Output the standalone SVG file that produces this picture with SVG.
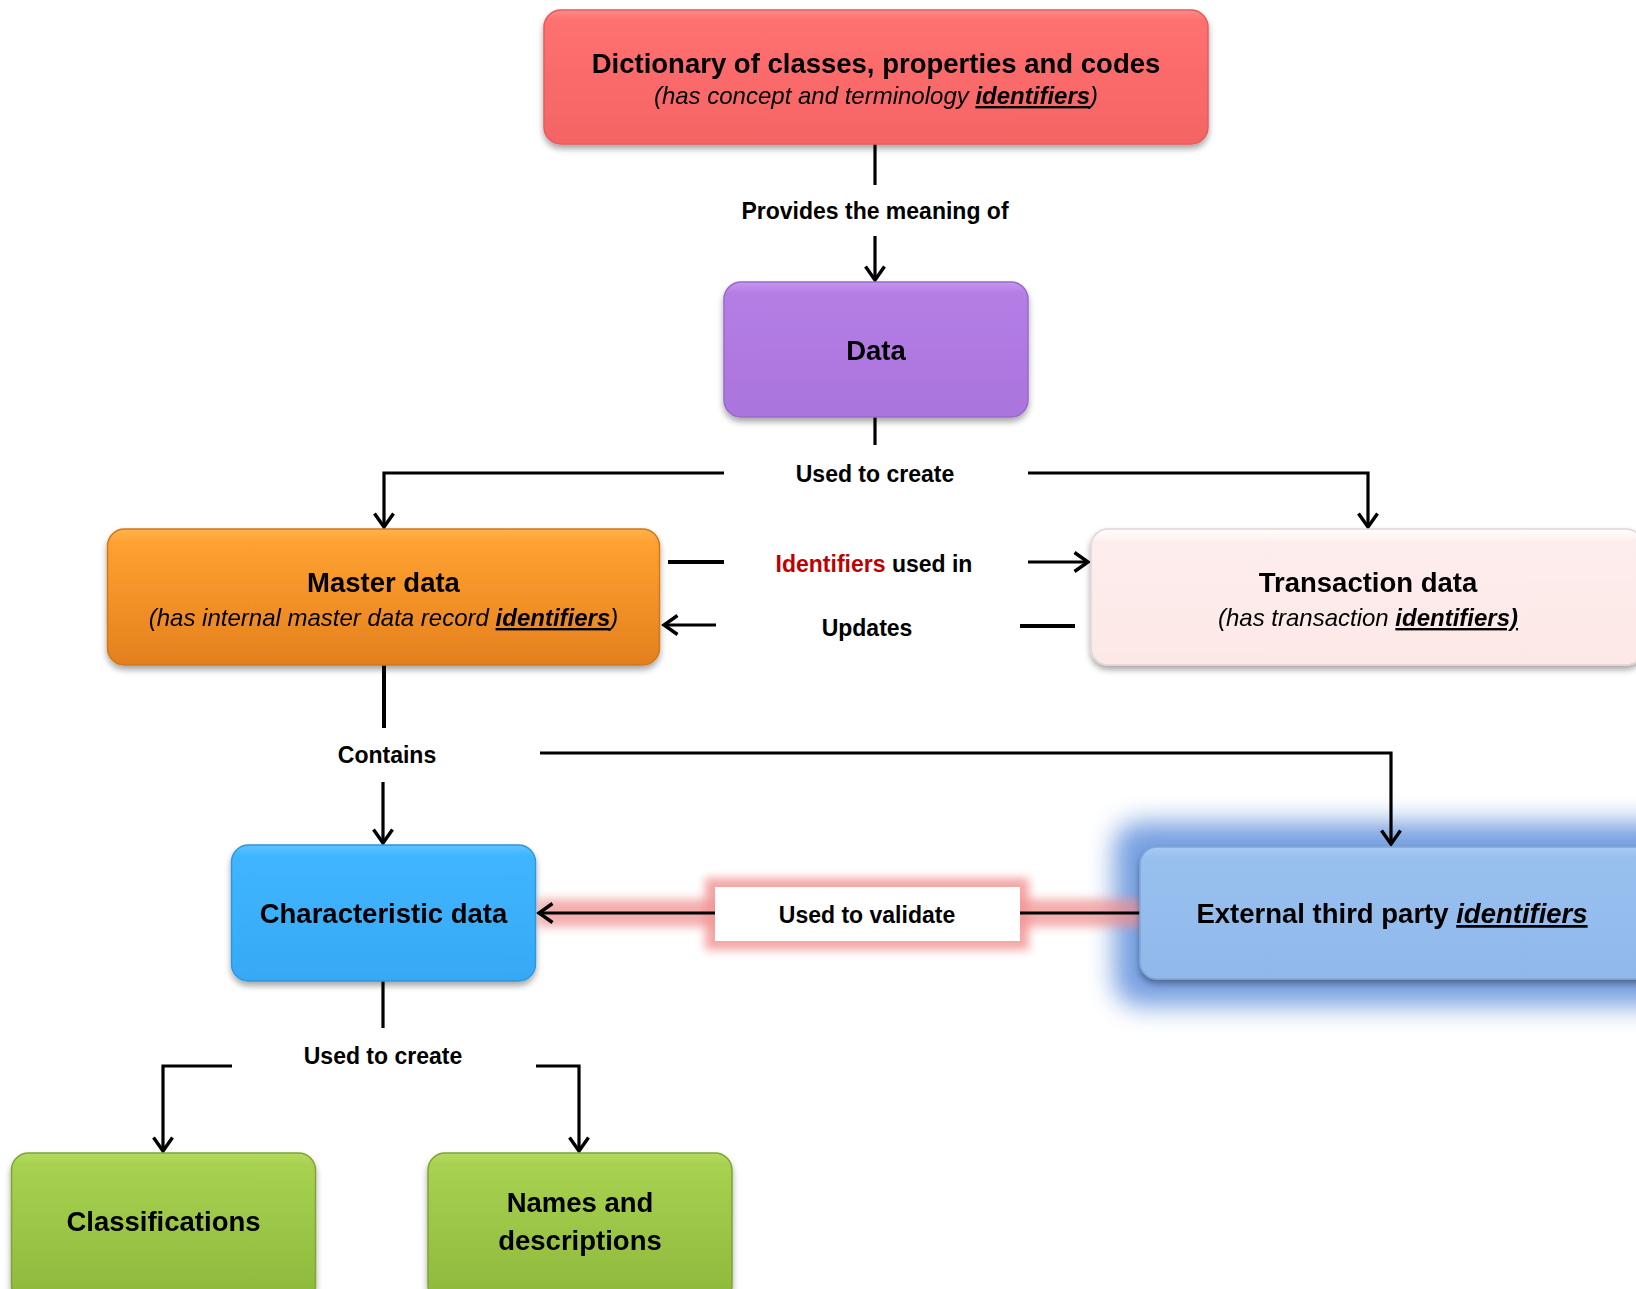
<svg xmlns="http://www.w3.org/2000/svg" width="1636" height="1289" viewBox="0 0 1636 1289">
<style>
.t{font-family:"Liberation Sans",Arial,sans-serif;font-weight:bold;font-size:27.5px;fill:#000;text-anchor:middle}
.s{font-family:"Liberation Sans",Arial,sans-serif;font-style:italic;font-weight:normal;font-size:24px;fill:#000;text-anchor:middle}
.l{font-family:"Liberation Sans",Arial,sans-serif;font-weight:bold;font-size:23px;fill:#000;text-anchor:middle}
.id{font-weight:bold;font-style:italic;text-decoration:underline}
.c{fill:none;stroke:#000;stroke-width:3.2}
.box{filter:url(#sh)}
</style>
<defs>
<filter id="sh" x="-10%" y="-20%" width="120%" height="150%">
<feDropShadow dx="0" dy="4" stdDeviation="3" flood-color="#000" flood-opacity="0.35"/>
</filter>
<filter id="blur12" x="-30%" y="-60%" width="160%" height="220%"><feGaussianBlur stdDeviation="13"/></filter>
<filter id="blur5" x="-20%" y="-100%" width="140%" height="300%"><feGaussianBlur stdDeviation="5"/></filter>
<linearGradient id="gRed" x1="0" y1="0" x2="0" y2="1"><stop offset="0" stop-color="#FF8A8A"/><stop offset="0.08" stop-color="#FF7070"/><stop offset="1" stop-color="#F56464"/></linearGradient>
<linearGradient id="gPur" x1="0" y1="0" x2="0" y2="1"><stop offset="0" stop-color="#C596EE"/><stop offset="0.08" stop-color="#B47EE5"/><stop offset="1" stop-color="#AA74DD"/></linearGradient>
<linearGradient id="gOra" x1="0" y1="0" x2="0" y2="1"><stop offset="0" stop-color="#FFB24E"/><stop offset="0.1" stop-color="#FFA131"/><stop offset="1" stop-color="#E4801E"/></linearGradient>
<linearGradient id="gPink" x1="0" y1="0" x2="0" y2="1"><stop offset="0" stop-color="#FFFFFF"/><stop offset="0.1" stop-color="#FDEDEC"/><stop offset="1" stop-color="#FCE8E7"/></linearGradient>
<linearGradient id="gBlu" x1="0" y1="0" x2="0" y2="1"><stop offset="0" stop-color="#5EC4FF"/><stop offset="0.08" stop-color="#40B5FF"/><stop offset="1" stop-color="#36A9F5"/></linearGradient>
<linearGradient id="gLbl" x1="0" y1="0" x2="0" y2="1"><stop offset="0" stop-color="#A9CBF3"/><stop offset="0.08" stop-color="#98C0EF"/><stop offset="1" stop-color="#90B9EA"/></linearGradient>
<linearGradient id="gGrn" x1="0" y1="0" x2="0" y2="1"><stop offset="0" stop-color="#B5DA60"/><stop offset="0.08" stop-color="#A7D150"/><stop offset="1" stop-color="#8DB83B"/></linearGradient>
<marker id="arr" markerUnits="userSpaceOnUse" markerWidth="18" markerHeight="22" refX="15" refY="11" orient="auto">
<path d="M1.5,1.5 L15,11 L1.5,20.5" fill="none" stroke="#000" stroke-width="3.4"/>
</marker>
</defs>
<rect width="1636" height="1289" fill="#fff"/>

<g id="glows">
<rect x="1114" y="822" width="570" height="184" rx="26" fill="#5F8FDB" opacity="0.85" filter="url(#blur12)"/>
<rect x="538" y="899" width="604" height="28" fill="#F08C8C" opacity="0.7" filter="url(#blur5)"/>
<rect x="705" y="878" width="324" height="72" fill="#F39595" opacity="0.85" filter="url(#blur5)"/>
</g>

<g id="connectors">
<path class="c" d="M875,144 V185"/>
<path class="c" d="M875,236 V280" marker-end="url(#arr)"/>
<path class="c" d="M875,417 V445"/>
<path class="c" d="M724,473 H384 V527" marker-end="url(#arr)"/>
<path class="c" d="M1028,473 H1368 V527" marker-end="url(#arr)"/>
<path class="c" d="M668,562 H724" style="stroke-width:4"/>
<path class="c" d="M1028,562 H1088" marker-end="url(#arr)"/>
<path class="c" d="M716,625 H664" marker-end="url(#arr)"/>
<path class="c" d="M1020,626 H1075" style="stroke-width:4"/>
<path class="c" d="M384,665 V728" style="stroke-width:4"/>
<path class="c" d="M383,782 V843" marker-end="url(#arr)"/>
<path class="c" d="M540,753 H1391 V844" marker-end="url(#arr)"/>
<path class="c" d="M1140,913 H539" marker-end="url(#arr)"/>
<path class="c" d="M383,981 V1028"/>
<path class="c" d="M232,1066 H163 V1151" marker-end="url(#arr)"/>
<path class="c" d="M536,1066 H579 V1151" marker-end="url(#arr)"/>
<g id="label-validate">
<rect x="715" y="887" width="305" height="54" fill="#fff"/>
<text class="l" x="867" y="923">Used to validate</text>
</g>
<text class="l" x="875" y="219">Provides the meaning of</text>
<text class="l" x="875" y="482">Used to create</text>
<text class="l" x="874" y="572"><tspan fill="#C00000">Identifiers</tspan> used in</text>
<text class="l" x="867" y="636">Updates</text>
<text class="l" x="387" y="763">Contains</text>
<text class="l" x="383" y="1064">Used to create</text>
</g>

<g id="dictionary" class="box">
<rect x="544" y="10" width="664" height="134" rx="17" fill="url(#gRed)" stroke="#E25C5C" stroke-width="1.5"/>
<text class="t" x="876" y="73">Dictionary of classes, properties and codes</text>
<text class="s" x="876" y="104">(has concept and terminology <tspan class="id">identifiers</tspan>)</text>
</g>

<g id="data" class="box">
<rect x="724" y="282" width="304" height="135" rx="17" fill="url(#gPur)" stroke="#9A68CC" stroke-width="1.5"/>
<text class="t" x="876" y="360">Data</text>
</g>

<g id="master-data" class="box">
<rect x="107.5" y="529" width="552" height="136" rx="17" fill="url(#gOra)" stroke="#D27618" stroke-width="1.5"/>
<text class="t" x="383.5" y="592">Master data</text>
<text class="s" x="383.5" y="626">(has internal master data record <tspan class="id">identifiers</tspan>)</text>
</g>

<g id="transaction-data" class="box">
<rect x="1091" y="529" width="552" height="136" rx="17" fill="url(#gPink)" stroke="#E4D4D4" stroke-width="1.5"/>
<text class="t" x="1368" y="592">Transaction data</text>
<text class="s" x="1368" y="626">(has transaction <tspan class="id">identifiers)</tspan></text>
</g>

<g id="characteristic-data" class="box">
<rect x="231.5" y="845" width="304" height="136" rx="17" fill="url(#gBlu)" stroke="#2E97DD" stroke-width="1.5"/>
<text class="t" x="383.5" y="923">Characteristic data</text>
</g>

<g id="external-identifiers" class="box">
<rect x="1140" y="847" width="520" height="132" rx="17" fill="url(#gLbl)" stroke="#7FA6D6" stroke-width="1.5"/>
<text class="t" x="1392" y="923">External third party <tspan class="id">identifiers</tspan></text>
</g>

<g id="classifications" class="box">
<rect x="11.5" y="1153" width="304" height="150" rx="17" fill="url(#gGrn)" stroke="#7EA532" stroke-width="1.5"/>
<text class="t" x="163.5" y="1231">Classifications</text>
</g>

<g id="names-descriptions" class="box">
<rect x="428" y="1153" width="304" height="150" rx="17" fill="url(#gGrn)" stroke="#7EA532" stroke-width="1.5"/>
<text class="t" x="580" y="1212">Names and</text>
<text class="t" x="580" y="1250">descriptions</text>
</g>
</svg>
